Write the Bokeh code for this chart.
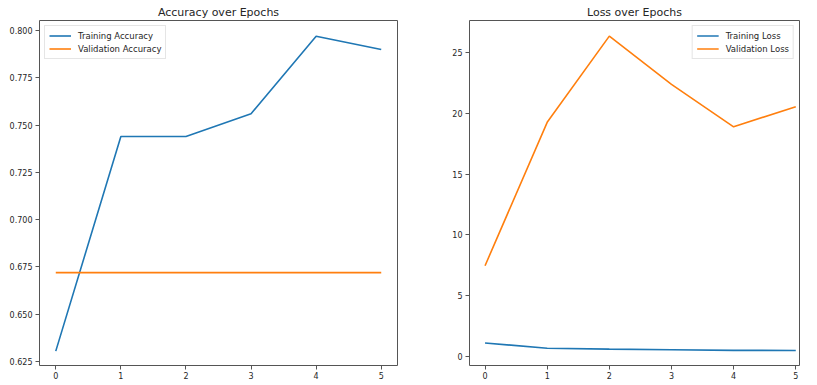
from bokeh.plotting import figure
from bokeh.layouts import row
from bokeh.models import Range1d, FixedTicker, PrintfTickFormatter, Legend, LegendItem, Title
from bokeh.embed import file_html
from bokeh.resources import INLINE

epochs = [0, 1, 2, 3, 4, 5]
train_acc = [0.6305, 0.744, 0.744, 0.756, 0.797, 0.790]
val_acc = [0.672, 0.672, 0.672, 0.672, 0.672, 0.672]
train_loss = [1.09, 0.65, 0.58, 0.53, 0.48, 0.47]
val_loss = [7.45, 19.27, 26.37, 22.4, 18.9, 20.56]

acc_ticks = [0.625, 0.650, 0.675, 0.700, 0.725, 0.750, 0.775, 0.800]
loss_ticks = [0, 5, 10, 15, 20, 25]
x_ticks = [0, 1, 2, 3, 4, 5]

BLUE = "#1f77b4"
ORANGE = "#ff7f0e"
FONT = "DejaVu Sans"
TXT = "#262626"


def make_fig(width, title, xr, yr, left, right):
    p = figure(width=width, height=381, output_backend="svg", toolbar_location=None,
               x_range=xr, y_range=yr, min_border_left=left, min_border_right=right,
               min_border_top=20, min_border_bottom=8)
    p.title = Title(text=title, align="center", text_font=FONT, text_font_size="11px",
                    text_font_style="normal", text_color=TXT, standoff=3)
    p.xgrid.visible = False
    p.ygrid.visible = False
    p.outline_line_color = "#555555"
    p.outline_line_width = 1
    p.background_fill_color = "white"
    p.border_fill_color = "white"
    for ax in (p.xaxis[0], p.yaxis[0]):
        ax.axis_line_color = None
        ax.major_tick_line_color = "#555555"
        ax.major_tick_out = 4
        ax.major_tick_in = 0
        ax.minor_tick_line_color = None
        ax.major_label_text_font = FONT
        ax.major_label_text_font_size = "8px"
        ax.major_label_text_color = TXT
        ax.major_label_standoff = 3
    p.xaxis[0].major_label_standoff = 2
    p.xaxis[0].ticker = FixedTicker(ticks=x_ticks)
    return p


p1 = make_fig(407, "Accuracy over Epochs", Range1d(-0.25, 5.25), Range1d(0.6229, 0.8053), 39, 10)
p1.yaxis[0].ticker = FixedTicker(ticks=acc_ticks)
p1.yaxis[0].formatter = PrintfTickFormatter(format="%.3f")
r1 = p1.line(epochs, train_acc, line_color=BLUE, line_width=1.6)
r2 = p1.line(epochs, val_acc, line_color=ORANGE, line_width=1.6)
leg1 = Legend(items=[LegendItem(label="Training Accuracy", renderers=[r1]),
                     LegendItem(label="Validation Accuracy", renderers=[r2])],
              location="top_left")

p2 = make_fig(394, "Loss over Epochs", Range1d(-0.25, 5.06), Range1d(-0.77, 27.66), 62, 2)
p2.yaxis[0].ticker = FixedTicker(ticks=loss_ticks)
r3 = p2.line(epochs, train_loss, line_color=BLUE, line_width=1.6)
r4 = p2.line(epochs, val_loss, line_color=ORANGE, line_width=1.6)
leg2 = Legend(items=[LegendItem(label="Training Loss", renderers=[r3]),
                     LegendItem(label="Validation Loss", renderers=[r4])],
              location="top_right")

for p, leg in ((p1, leg1), (p2, leg2)):
    leg.label_text_font = FONT
    leg.label_text_font_size = "8.5px"
    leg.label_text_color = TXT
    leg.label_height = 11
    leg.glyph_height = 11
    leg.glyph_width = 22
    leg.label_standoff = 7
    leg.spacing = 2
    leg.padding = 4
    leg.margin = 5
    leg.border_line_color = "#cccccc"
    leg.border_line_width = 1
    leg.background_fill_color = "white"
    leg.background_fill_alpha = 0.8
    p.add_layout(leg)

layout = row(p1, p2)
open("out.html", "w").write(file_html(layout, INLINE))
